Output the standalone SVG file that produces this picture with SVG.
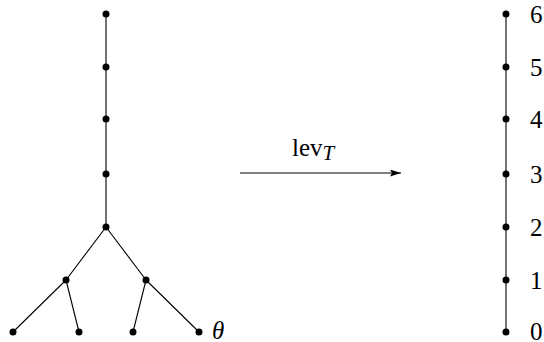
<svg xmlns="http://www.w3.org/2000/svg" width="544" height="342" viewBox="0 0 544 342">
<style>
.e{stroke:#000;stroke-width:1.1;fill:none}
.n{fill:#000}
.t{font-family:"Liberation Serif","Times New Roman",serif;font-size:25px;fill:#000}
</style>
<defs>
<marker id="ah" markerWidth="11" markerHeight="7" refX="11" refY="3.5" orient="auto" markerUnits="userSpaceOnUse">
<path d="M0,0 L11,3.5 L0,7 L2,3.5 Z" fill="#000"/>
</marker>
</defs>
<g id="connectors">
<path class="e" d="M106,14 V227 M106,227 L66,280 M106,227 L146,280 M66,280 L13,332 M66,280 L79,332 M146,280 L133,332 M146,280 L199,332"/>
<path class="e" d="M506,14 V332"/>
<line class="e" x1="240" y1="173" x2="401" y2="173" marker-end="url(#ah)"/>
</g>
<g id="tree">
<circle class="n" cx="106" cy="14" r="3.5"/>
<circle class="n" cx="106" cy="67" r="3.5"/>
<circle class="n" cx="106" cy="119" r="3.5"/>
<circle class="n" cx="106" cy="174" r="3.5"/>
<circle class="n" cx="106" cy="227" r="3.5"/>
<circle class="n" cx="66" cy="280" r="3.5"/>
<circle class="n" cx="146" cy="280" r="3.5"/>
<circle class="n" cx="13" cy="332" r="3.5"/>
<circle class="n" cx="79" cy="332" r="3.5"/>
<circle class="n" cx="133" cy="332" r="3.5"/>
<circle class="n" cx="199" cy="332" r="3.5"/>
<text class="t" x="212" y="339" font-style="italic" font-size="27">θ</text>
</g>
<g id="label">
<text class="t" x="292" y="156" font-size="28">lev<tspan font-style="italic" font-size="21" dy="3.5">T</tspan></text>
</g>
<g id="levels">
<circle class="n" cx="506" cy="14" r="3.5"/><text class="t" x="530" y="22.5">6</text>
<circle class="n" cx="506" cy="67" r="3.5"/><text class="t" x="530" y="75.5">5</text>
<circle class="n" cx="506" cy="119" r="3.5"/><text class="t" x="530" y="127.5">4</text>
<circle class="n" cx="506" cy="174" r="3.5"/><text class="t" x="530" y="182.5">3</text>
<circle class="n" cx="506" cy="227" r="3.5"/><text class="t" x="530" y="235.5">2</text>
<circle class="n" cx="506" cy="280" r="3.5"/><text class="t" x="530" y="288.5">1</text>
<circle class="n" cx="506" cy="332" r="3.5"/><text class="t" x="530" y="340">0</text>
</g>
</svg>
